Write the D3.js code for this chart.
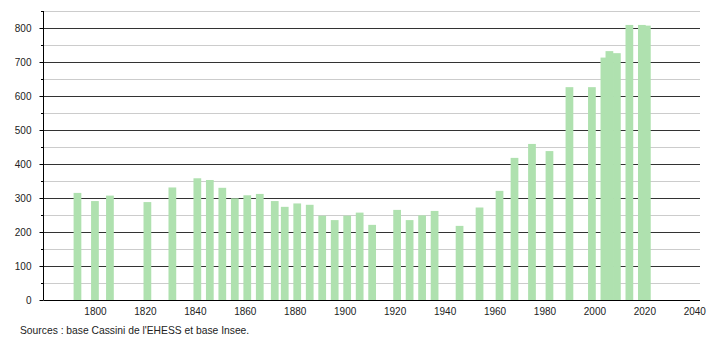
<!DOCTYPE html>
<html><head><meta charset="utf-8">
<script src="https://cdn.jsdelivr.net/npm/d3@7"></script>
<style>body{margin:0;background:#fff}svg{display:block}text{font-family:"Liberation Sans",Arial,sans-serif}</style>
</head><body><svg id="c" width="710" height="340"></svg>
<script>
const years = [1793,1800,1806,1821,1831,1841,1846,1851,1856,1861,1866,1872,1876,1881,1886,1891,1896,1901,1906,1911,1921,1926,1931,1936,1946,1954,1962,1968,1975,1982,1990,1999,2004,2006,2009,2014,2019,2021];
const population = [315,291,307,288,331,358,353,330,299,308,312,291,274,284,280,248,235,248,257,221,265,235,249,262,218,272,321,418,459,438,626,626,713,732,726,809,809,807];
const xTicks = [1800,1820,1840,1860,1880,1900,1920,1940,1960,1980,2000,2020,2040];
const yTicks = [0,100,200,300,400,500,600,700,800];
const yMinor = [50,150,250,350,450,550,650,750,850];
const sourceText = "Sources : base Cassini de l'EHESS et base Insee.";

const svg = d3.select("#c");
const x = d3.scaleLinear().domain([1779.4, 2042.4]).range([43.5, 700.3]);
const y = d3.scaleLinear().domain([0, 850]).range([300, 11]);

// minor grid
svg.append("g").selectAll("line").data(yMinor).join("line")
  .attr("x1", 43.5).attr("x2", 700).attr("y1", d => Math.round(y(d)) + 0.5).attr("y2", d => Math.round(y(d)) + 0.5)
  .attr("stroke", "#cccccc").attr("stroke-width", 1);
// major grid
svg.append("g").selectAll("line").data(yTicks.filter(d => d > 0)).join("line")
  .attr("x1", 43.5).attr("x2", 700).attr("y1", d => Math.round(y(d)) + 0.5).attr("y2", d => Math.round(y(d)) + 0.5)
  .attr("stroke", "#333333").attr("stroke-width", 1);

// bars
const half = (x(1801.55) - x(1798.45)) / 2;
svg.append("g").selectAll("rect").data(years).join("rect")
  .attr("x", d => x(d) - half)
  .attr("width", half * 2)
  .attr("y", (d, i) => y(population[i]))
  .attr("height", (d, i) => y(0) - y(population[i]))
  .attr("fill", "#afe1af");

// y axis
const yAxis = d3.axisLeft(y).tickValues(yTicks).tickSize(4).tickPadding(8).tickFormat(d3.format("d"));
const gy = svg.append("g").attr("transform", "translate(43.5,0)").call(yAxis);
gy.select(".domain").attr("d", "M0," + y(850) + "V" + y(0)).attr("stroke", "#000");
gy.selectAll(".tick line").attr("stroke", "#000");
gy.selectAll(".tick text").attr("font-size", 10).attr("fill", "#222").attr("font-family", "Liberation Sans, Arial, sans-serif");
svg.append("g").selectAll("line").data(yMinor).join("line")
  .attr("x1", 41).attr("x2", 43.5).attr("y1", d => Math.round(y(d)) + 0.5).attr("y2", d => Math.round(y(d)) + 0.5)
  .attr("stroke", "#000");

// x axis
const xAxis = d3.axisBottom(x).tickValues(xTicks).tickSize(0).tickPadding(7).tickFormat(d3.format("d"));
const gx = svg.append("g").attr("transform", "translate(0,300.5)").call(xAxis);
gx.select(".domain").attr("d", "M43.5,0H700").attr("stroke", "#000");
gx.selectAll(".tick text").attr("font-size", 10).attr("fill", "#222").attr("font-family", "Liberation Sans, Arial, sans-serif");

svg.append("text").attr("x", 20).attr("y", 334).attr("font-size", 10.3).attr("fill", "#222").text(sourceText);
</script></body></html>
